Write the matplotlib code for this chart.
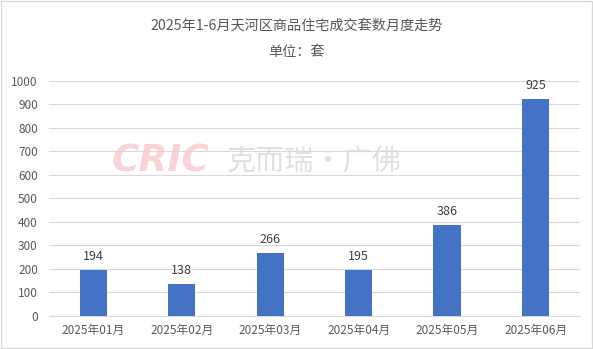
import matplotlib.pyplot as plt
from matplotlib.patches import Rectangle

plt.rcParams['font.family'] = ['Noto Sans CJK SC', 'DejaVu Sans']

months = ['2025年01月', '2025年02月', '2025年03月', '2025年04月', '2025年05月', '2025年06月']
units = [194, 138, 266, 195, 386, 925]

fig = plt.figure(figsize=(5.93, 3.49), dpi=100)
ax = fig.add_axes([0.0826, 0.0946, 0.8954, 0.6734])

# watermark
fig.text(0.188, 0.536, 'CRIC', fontsize=27, fontweight='bold', style='italic',
         color='#f8c8cc', alpha=0.8, ha='left', va='center', family='DejaVu Sans')
fig.text(0.383, 0.536, '克而瑞·广佛', fontsize=21, color='#d9d9d9', alpha=0.8,
         ha='left', va='center')

x = range(len(months))
bars = ax.bar(x, units, width=0.31, color='#4472C4', zorder=3)
for xi, v in zip(x, units):
    ax.text(xi, v + 30, str(v), ha='center', va='bottom', fontsize=9, color='#404040')

ax.set_xlim(-0.5, len(months) - 0.5)
ax.set_ylim(0, 1000)
ax.set_yticks(range(0, 1001, 100))
ax.set_xticks(list(x))
ax.set_xticklabels(months)
ax.grid(axis='y', color='#d9d9d9', linewidth=0.8, zorder=0)
for s in ['top', 'right', 'left']:
    ax.spines[s].set_visible(False)
ax.spines['bottom'].set_color('#d9d9d9')
ax.tick_params(axis='both', length=0, labelsize=8.5, labelcolor='#595959')
ax.tick_params(axis='y', pad=8)
ax.tick_params(axis='x', pad=6)
ax.set_facecolor('none')

fig.text(0.5, 0.928, '2025年1-6月天河区商品住宅成交套数月度走势', ha='center', va='center',
         fontsize=10.2, color='#595959')
fig.text(0.5, 0.851, '单位：套', ha='center', va='center', fontsize=10.2, color='#595959')

fig.patches.append(Rectangle((0.002, 0.003), 0.996, 0.994, transform=fig.transFigure,
                             fill=False, edgecolor='#d9d9d9', linewidth=1))

fig.savefig('out.png', dpi=100)
